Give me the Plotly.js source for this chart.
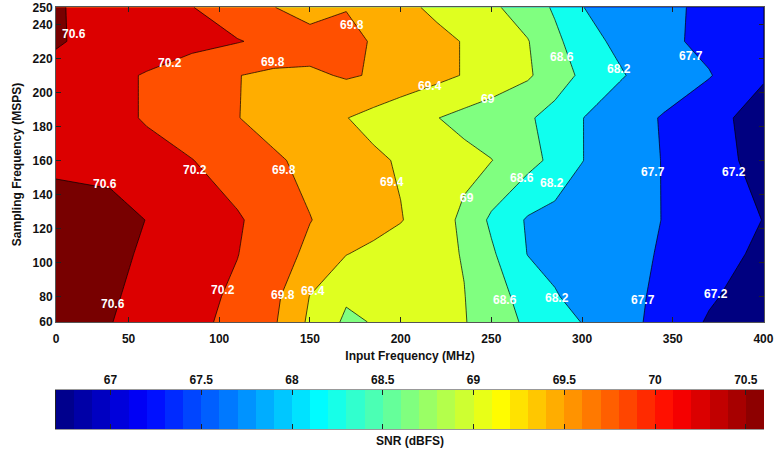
<!DOCTYPE html>
<html>
<head>
<meta charset="utf-8">
<script src="https://cdn.plot.ly/plotly-3.0.1.min.js"></script>
<style>
  html, body { margin: 0; padding: 0; background: #fff; }
  #chart { width: 774px; height: 450px; }
</style>
</head>
<body>
<div id="chart"></div>
<script>
// input frequency (MHz) columns and sampling frequency (MSPS) rows
var inputFreq = [10, 40, 60, 85, 110, 130, 150, 170, 185, 200, 220, 235, 250, 270, 285, 300, 325, 345, 370, 400];
var sampFreq = [65, 80, 105, 125, 160, 185, 210, 230, 250];

// SNR (dBFS), one row per sampling frequency
var snr = [
  [70.90, 70.61, 70.47, 70.30, 70.09, 69.85, 69.33, 68.93, 69.02, 69.10, 69.08, 69.02, 68.82, 68.53, 68.36, 68.19, 67.83, 67.53, 67.15, 66.85],
  [70.90, 70.64, 70.50, 70.33, 70.13, 69.90, 69.39, 69.05, 69.10, 69.12, 69.07, 69.01, 68.77, 68.45, 68.23, 68.07, 67.82, 67.59, 67.26, 66.95],
  [70.90, 70.69, 70.55, 70.38, 70.21, 69.97, 69.72, 69.41, 69.31, 69.21, 69.09, 68.98, 68.66, 68.19, 68.09, 67.99, 67.81, 67.66, 67.40, 67.10],
  [70.82, 70.80, 70.59, 70.42, 70.24, 70.03, 69.81, 69.65, 69.54, 69.42, 69.16, 68.92, 68.53, 68.16, 68.06, 67.97, 67.82, 67.69, 67.47, 67.19],
  [70.50, 70.42, 70.32, 70.21, 70.01, 69.85, 69.71, 69.57, 69.47, 69.36, 69.22, 69.11, 69.01, 68.73, 68.50, 68.21, 67.91, 67.68, 67.39, 67.04],
  [70.50, 70.30, 70.17, 69.98, 69.81, 69.67, 69.54, 69.41, 69.28, 69.16, 69.01, 68.89, 68.79, 68.65, 68.46, 68.21, 67.90, 67.66, 67.36, 67.00],
  [70.50, 70.30, 70.17, 69.98, 69.81, 69.72, 69.73, 69.84, 69.77, 69.65, 69.50, 69.38, 69.24, 69.05, 68.80, 68.53, 68.19, 67.99, 67.73, 67.25],
  [70.63, 70.48, 70.42, 70.32, 70.22, 70.11, 69.99, 69.87, 69.78, 69.66, 69.50, 69.38, 69.22, 69.02, 68.69, 68.39, 68.03, 67.81, 67.57, 67.30],
  [70.64, 70.42, 70.34, 70.21, 69.98, 69.81, 69.61, 69.79, 69.65, 69.50, 69.32, 69.19, 69.07, 68.81, 68.55, 68.21, 67.98, 67.80, 67.60, 67.40]
];

// contour levels and the fill used above each one
var levels = [67.2, 67.7, 68.2, 68.6, 69, 69.4, 69.8, 70.2, 70.6];
var bandColors = ['#0010ff', '#0090ff', '#10ffee', '#80ff80', '#dfff20', '#ffad00', '#ff5000', '#dc0000', '#780000'];
var lowestColor = '#000080';

// where each level gets its label: [level index, MHz, MSPS]
var labelSpots = [
  [8, 19.9, 234.3], [8, 37.0, 145.9], [8, 41.4, 75.5],
  [7, 72.8, 217.4], [7, 86.6, 154.6], [7, 102.0, 83.6],
  [6, 129.6, 218.0], [6, 173.1, 239.5], [6, 135.6, 154.6], [6, 135.1, 80.7],
  [5, 216.1, 203.5], [5, 195.1, 147.6], [5, 151.6, 83.0],
  [4, 248.0, 195.9], [4, 236.4, 137.7],
  [3, 288.8, 220.9], [3, 266.7, 149.4], [3, 257.4, 77.8],
  [2, 320.2, 213.9], [2, 283.3, 147.0], [2, 286.0, 79.0],
  [1, 359.9, 221.5], [1, 338.9, 153.4], [1, 333.4, 77.8],
  [0, 383.6, 153.4], [0, 373.6, 81.3]
];

var xTickVals = [10, 50, 100, 150, 200, 250, 300, 350, 400];
var xTickText = ['0', '50', '100', '150', '200', '250', '300', '350', '400'];
var yTickVals = [65, 80, 100, 120, 140, 160, 180, 200, 220, 240, 250];
var yTickText = ['60', '80', '100', '120', '140', '160', '180', '200', '220', '240', '250'];

var cbMin = 66.7, cbMax = 70.6;
var cbTicks = [67, 67.5, 68, 68.5, 69, 69.5, 70, 70.5];

var jet = [
  [0, '#000080'], [0.125, '#0000ff'], [0.375, '#00ffff'],
  [0.625, '#ffff00'], [0.875, '#ff0000'], [1, '#800000']
];

var boldFont = {family: 'Liberation Sans, Arial, sans-serif', size: 12, color: '#111', weight: 'bold'};
var labelFont = {family: 'Liberation Sans, Arial, sans-serif', size: 12, color: '#ffffff', weight: 'bold'};

var data = [];
levels.forEach(function(lv, i) {
  // plotly shades the region that fails the constraint, so '<' fills z > level
  data.push({
    type: 'contour',
    x: inputFreq,
    y: sampFreq,
    z: snr,
    xaxis: 'x',
    yaxis: 'y',
    contours: {type: 'constraint', operation: '<', value: lv, showlabels: false},
    fillcolor: bandColors[i],
    line: {color: '#000', width: 0.7, smoothing: 0},
    showscale: false,
    hoverinfo: 'skip'
  });
});

// stepped colour bar drawn as a one-row heatmap
var cbSteps = [];
for (var v = cbMin + 0.05; v < cbMax; v += 0.1) cbSteps.push(+v.toFixed(2));
data.push({
  type: 'heatmap',
  x: cbSteps,
  z: [cbSteps],
  xaxis: 'x2',
  yaxis: 'y2',
  colorscale: jet,
  zmin: cbMin,
  zmax: cbMax,
  showscale: false,
  hoverinfo: 'skip'
});

var annotations = labelSpots.map(function(s) {
  return {
    text: String(levels[s[0]]),
    xref: 'x', yref: 'y',
    x: s[1], y: s[2],
    showarrow: false,
    font: labelFont
  };
});
annotations.push({
  text: 'SNR (dBFS)',
  xref: 'paper', yref: 'paper',
  x: 0.5, y: 0,
  xanchor: 'center', yanchor: 'top',
  yshift: -3,
  showarrow: false,
  font: boldFont
});

var layout = {
  width: 774,
  height: 450,
  margin: {l: 56, r: 10, t: 7, b: 21},
  paper_bgcolor: '#ffffff',
  plot_bgcolor: lowestColor,
  font: boldFont,
  showlegend: false,
  xaxis: {
    domain: [0, 1],
    anchor: 'y',
    range: [10, 400.3],
    tickmode: 'array',
    tickvals: xTickVals,
    ticktext: xTickText,
    ticks: 'inside',
    ticklen: 5,
    tickcolor: '#222',
    ticklabelstandoff: 6,
    showline: true,
    linecolor: '#555',
    mirror: 'ticks',
    showgrid: false,
    zeroline: false,
    tickfont: boldFont,
    title: {text: 'Input Frequency (MHz)', font: boldFont, standoff: 6}
  },
  yaxis: {
    domain: [0.2536, 1],
    anchor: 'x',
    range: [65, 250.2],
    tickmode: 'array',
    tickvals: yTickVals,
    ticktext: yTickText,
    ticks: 'inside',
    ticklen: 5,
    tickcolor: '#222',
    ticklabeloverflow: 'allow',
    showline: true,
    linecolor: '#555',
    mirror: 'ticks',
    showgrid: false,
    zeroline: false,
    tickfont: boldFont,
    title: {text: 'Sampling Frequency (MSPS)', font: boldFont, standoff: 8}
  },
  xaxis2: {
    domain: [0, 1],
    anchor: 'y2',
    side: 'top',
    range: [cbMin, cbMax],
    tickmode: 'array',
    tickvals: cbTicks,
    ticks: 'inside',
    ticklen: 5,
    tickcolor: '#222',
    showline: true,
    linecolor: '#999',
    mirror: 'ticks',
    showgrid: false,
    zeroline: false,
    tickfont: boldFont
  },
  yaxis2: {
    domain: [0, 0.0924],
    anchor: 'x2',
    range: [-0.5, 0.5],
    showticklabels: false,
    ticks: '',
    showline: true,
    linecolor: '#222',
    showgrid: false,
    zeroline: false
  },
  annotations: annotations
};

Plotly.newPlot('chart', data, layout, {displayModeBar: false, staticPlot: true});
</script>
</body>
</html>
